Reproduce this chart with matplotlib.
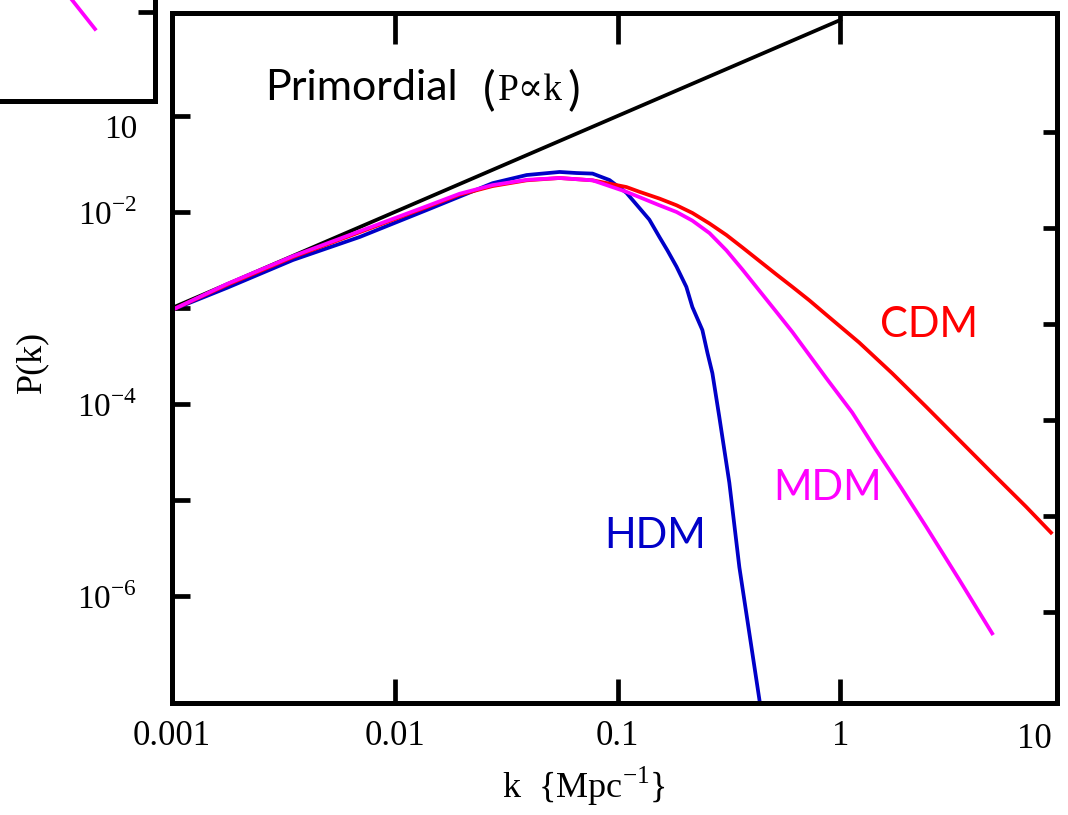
import numpy as np
import matplotlib
matplotlib.use("Agg")
import matplotlib.pyplot as plt

# power spectra read as log10 values
prim_k = [-3.0, 0.0]
prim_p = [-3.0, 0.0]

cdm_k = [-3.0, -2.753, -2.457, -2.157, -1.857, -1.709, -1.561, -1.408, -1.260,
         -1.112, -0.960, -0.901, -0.812, -0.735, -0.664, -0.587, -0.511, -0.439,
         -0.363, -0.287, -0.215, -0.139, -0.063, 0.085, 0.233, 0.386, 0.534,
         0.682, 0.834, 0.946]
cdm_p = [-3.02, -2.76, -2.47, -2.21, -1.95, -1.82, -1.73, -1.67, -1.646,
         -1.67, -1.74, -1.79, -1.86, -1.93, -2.01, -2.12, -2.24, -2.37,
         -2.51, -2.65, -2.78, -2.92, -3.07, -3.36, -3.68, -4.03, -4.375,
         -4.72, -5.07, -5.34]

mdm_k = [-3.0, -2.753, -2.457, -2.157, -1.857, -1.709, -1.561, -1.408, -1.260,
         -1.112, -0.960, -0.812, -0.735, -0.664, -0.587, -0.511, -0.439, -0.363,
         -0.287, -0.215, -0.139, -0.063, 0.054, 0.161, 0.274, 0.386, 0.534, 0.682]
mdm_p = [-3.02, -2.75, -2.46, -2.20, -1.94, -1.81, -1.72, -1.665, -1.646,
         -1.67, -1.79, -1.93, -2.00, -2.09, -2.22, -2.40, -2.60, -2.82,
         -3.04, -3.25, -3.49, -3.73, -4.09, -4.48, -4.875, -5.28, -5.83, -6.39]

hdm_k = [-3.0, -2.753, -2.457, -2.157, -1.857, -1.709, -1.561, -1.408, -1.260,
         -1.184, -1.112, -1.036, -0.960, -0.901, -0.857, -0.812, -0.776, -0.735,
         -0.691, -0.664, -0.619, -0.596, -0.574, -0.543, -0.498, -0.453, -0.408,
         -0.363]
hdm_p = [-3.02, -2.79, -2.50, -2.26, -1.98, -1.84, -1.70, -1.615, -1.583,
         -1.594, -1.60, -1.667, -1.80, -1.96, -2.08, -2.26, -2.40, -2.57,
         -2.78, -2.99, -3.23, -3.47, -3.68, -4.135, -4.82, -5.70, -6.39, -7.08]

# piece of the neighbouring panel
inset_x = [0.465, 0.613]
inset_y = [1.0, 0.713]

xtick_vals = [0.001, 0.01, 0.1, 1]
xtick_text = ["0.001", "0.01", "0.1", "1"]
ytick_vals = [1e-1, 1e-2, 1e-3, 1e-4, 1e-5, 1e-6]
ytick_text = ["", r"10$^{\mathregular{-2}}$", "", r"10$^{\mathregular{-4}}$", "",
              r"10$^{\mathregular{-6}}$"]

serif = ["Liberation Serif", "DejaVu Serif"]
sans = ["Lato", "DejaVu Sans"]
plt.rcParams["mathtext.fontset"] = "custom"
plt.rcParams["mathtext.rm"] = "Liberation Serif"

W, H = 1068, 815
fig = plt.figure(figsize=(W / 100, H / 100), dpi=100)
ax = fig.add_axes([172 / W, (H - 703) / H, 885 / W, 690 / H])

lw = 2.7
ax.plot(10 ** np.array(prim_k), 10 ** np.array(prim_p), color="black", lw=lw)
ax.plot(10 ** np.array(hdm_k), 10 ** np.array(hdm_p), color="#0000C8", lw=lw)
ax.plot(10 ** np.array(cdm_k), 10 ** np.array(cdm_p), color="#FF0000", lw=lw)
ax.plot(10 ** np.array(mdm_k), 10 ** np.array(mdm_p), color="#FF00FF", lw=lw)

ax.set_xscale("log")
ax.set_yscale("log")
ax.set_xlim(1e-3, 10 ** 0.973)
ax.set_ylim(10 ** -7.115, 10 ** 0.073)

for s in ax.spines.values():
    s.set_linewidth(3.6)

ax.minorticks_off()
ax.set_xticks(xtick_vals, xtick_text)
ax.set_yticks(ytick_vals, ytick_text)
ax.tick_params(axis="x", which="major", direction="in", length=17, width=3.4,
               pad=12, top=False, labelsize=25)
ax.tick_params(axis="y", which="major", direction="in", length=13, width=3.4,
               pad=25, right=False, labelsize=24)
for lab in ax.get_xticklabels() + ax.get_yticklabels():
    lab.set_family(serif)

# extra labels that sit off the tick positions
ax.text(10 ** 0.87, -0.0283, "10", transform=ax.get_xaxis_transform(),
        ha="center", va="top", fontsize=25, family=serif)
ax.text(-0.0395, 10 ** -1.146, "10", transform=ax.get_yaxis_transform(),
        ha="right", va="center", fontsize=24, family=serif)

# top ticks, longer than the bottom ones
top = ax.secondary_xaxis("top")
top.set_xticks([0.01, 0.1, 1], ["", "", ""])
top.minorticks_off()
top.tick_params(direction="in", length=22, width=3.4)
top.spines["top"].set_visible(False)

# right ticks sit a little lower than the left ones
shift = 10 ** 0.167
right = ax.secondary_yaxis("right", functions=(lambda y: y * shift, lambda y: y / shift))
right.set_yticks(ytick_vals, [""] * len(ytick_vals))
right.minorticks_off()
right.tick_params(direction="in", length=10, width=3.4)
right.spines["right"].set_visible(False)

# curve labels
ax.text(0.105, 0.874, "Primordial", transform=ax.transAxes, fontsize=31,
        family=sans, va="baseline")
ax.text(0.351, 0.866, "(", transform=ax.transAxes, fontsize=34, family=sans, va="baseline")
ax.text(0.368, 0.874, "P\u221dk", transform=ax.transAxes, fontsize=27, family=serif,
        va="baseline")
ax.text(0.447, 0.866, ")", transform=ax.transAxes, fontsize=34, family=sans, va="baseline")
ax.text(0.800, 0.530, "CDM", transform=ax.transAxes, fontsize=30, family=sans,
        color="#FF0000", va="baseline")
ax.text(0.679, 0.294, "MDM", transform=ax.transAxes, fontsize=30, family=sans,
        color="#FF00FF", va="baseline")
ax.text(0.488, 0.224, "HDM", transform=ax.transAxes, fontsize=30, family=sans,
        color="#0000C8", va="baseline")

fig.text(584 / W, (H - 798) / H, r"k  {Mpc$^{\mathregular{-1}}$}", ha="center",
         va="baseline", fontsize=26, family=serif)
fig.text(32 / W, (H - 362) / H, "P(k)", rotation=90, ha="center", va="center",
         fontsize=26, family=serif)

# neighbouring panel, mostly off the figure
ins = fig.add_axes([0, (H - 101) / H, 155 / W, 101 / H])
ins.plot(inset_x, inset_y, color="#FF00FF", lw=lw, clip_on=False)
ins.set_xlim(0, 1)
ins.set_ylim(0, 1)
ins.spines["left"].set_visible(False)
ins.spines["top"].set_visible(False)
for side in ("right", "bottom"):
    ins.spines[side].set_linewidth(3.6)
ins.set_xticks([])
ins.set_yticks([0.88])
ins.tick_params(axis="y", direction="in", left=False, right=True, labelleft=False,
                length=12, width=3.4)

fig.savefig("out.png", dpi=100)
